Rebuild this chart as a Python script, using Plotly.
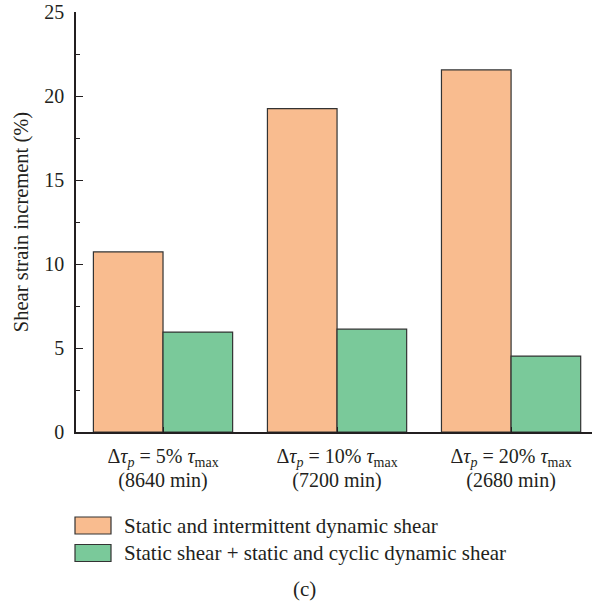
import plotly.graph_objects as go

line1 = [
    "Δ<i>τ<sub>p</sub></i> = 5% <i>τ</i><sub>max</sub>",
    "Δ<i>τ<sub>p</sub></i> = 10% <i>τ</i><sub>max</sub>",
    "Δ<i>τ<sub>p</sub></i> = 20% <i>τ</i><sub>max</sub>",
]
line2 = ["(8640 min)", "(7200 min)", "(2680 min)"]
series_names = [
    "Static and intermittent dynamic shear",
    "Static shear + static and cyclic dynamic shear",
]
intermittent = [10.72, 19.25, 21.55]
cyclic = [5.95, 6.12, 4.52]

colors = ["#F9BC8F", "#7AC99A"]
FONT = "Liberation Serif"
TXT = "#231F20"

categories = [
    f'<span style="font-size:20px">{a}</span><br><span style="font-size:20px">{b}</span>'
    for a, b in zip(line1, line2)
]

fig = go.Figure()
for name, vals, col in zip(series_names, [intermittent, cyclic], colors):
    fig.add_trace(go.Bar(
        x=list(range(len(categories))), y=vals, name=name,
        marker=dict(color=col, line=dict(color="#333333", width=1.2)),
        showlegend=False,
    ))

# custom legend (shapes + text)
W, H = 592, 606
L, R, T, B = 76, 0, 12, 174
pw, ph = W - L - R, H - T - B

def px(x):
    return (x - L) / pw

def py(y):
    return (H - B - y) / ph

shapes = []
annotations = []
rows = [(517, 534, 526), (544.5, 561.5, 553)]
for (y0, y1, yc), name, col in zip(rows, series_names, colors):
    shapes.append(dict(type="rect", xref="paper", yref="paper",
                       x0=px(75), x1=px(111), y0=py(y1), y1=py(y0),
                       fillcolor=col, line=dict(color="#333333", width=1.2)))
    annotations.append(dict(xref="paper", yref="paper", x=px(122), y=py(yc),
                            text=name, showarrow=False, xanchor="left",
                            yanchor="middle",
                            font=dict(family=FONT, size=21, color=TXT)))
annotations.append(dict(xref="paper", yref="paper", x=px(304), y=py(589),
                        text="(c)", showarrow=False, xanchor="center",
                        yanchor="middle",
                        font=dict(family=FONT, size=21, color=TXT)))

fig.update_layout(
    width=W, height=H,
    margin=dict(l=L, r=R, t=T, b=B, pad=0),
    paper_bgcolor="white", plot_bgcolor="white",
    barmode="group", bargap=0.2, bargroupgap=0,
    font=dict(family=FONT, size=17, color=TXT),
    shapes=shapes, annotations=annotations,
    showlegend=False,
)
fig.update_xaxes(
    range=[-0.5, 2.465],
    tickmode="array", tickvals=list(range(len(categories))), ticktext=categories,
    tickson="boundaries", ticks="inside", ticklen=5, tickcolor="#231F20",
    showline=True, linecolor="#231F20", linewidth=1.5,
    showgrid=False, zeroline=False,
    ticklabelstandoff=6,
    tickfont=dict(family=FONT, size=19, color=TXT),
)
fig.update_yaxes(
    range=[0, 25], tickvals=[0, 5, 10, 15, 20, 25],
    ticks="inside", ticklen=7, tickcolor="#231F20",
    minor=dict(ticks="inside", ticklen=4, dtick=2.5, tickcolor="#231F20", showgrid=False),
    showline=True, linecolor="#231F20", linewidth=1.5,
    showgrid=False, zeroline=False,
    ticklabelstandoff=6,
    tickfont=dict(family=FONT, size=20, color=TXT),
    title=dict(text="Shear strain increment (%)", standoff=10,
               font=dict(family=FONT, size=20.5, color=TXT)),
)

fig.write_html("out.html")
